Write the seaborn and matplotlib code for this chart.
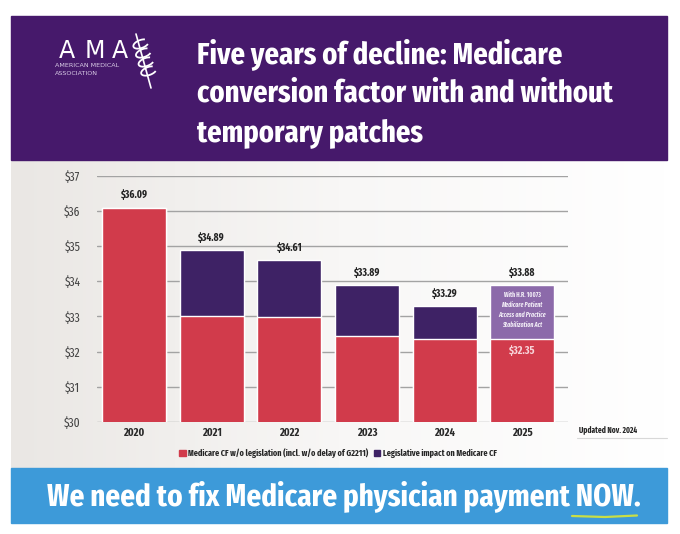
import os
import matplotlib
matplotlib.use("Agg")
import matplotlib.pyplot as plt
import seaborn as sns
import numpy as np
import pandas as pd
from matplotlib import font_manager as fm
from matplotlib.patches import Rectangle, Patch, Arc

# values
years = ["2020", "2021", "2022", "2023", "2024", "2025"]
cf_with_patch = [36.09, 34.89, 34.61, 33.89, 33.29, 33.88]
cf_without_legislation = [36.09, 33.00, 32.97, 32.43, 32.35, 32.35]
y_ticks = [30, 31, 32, 33, 34, 35, 36, 37]

RED = "#D13B4B"
DARK_PURPLE = "#3E2265"
LIGHT_PURPLE = "#8C6AAA"
HEADER = "#46196B"
BLUE = "#3D9AD9"

sns.set_theme(style="white")
plt.rcParams["font.family"] = ["DejaVu Sans"]


def pick(want_bold, want_italic):
    # look for an installed condensed face, the reference uses a condensed sans
    best, best_score = None, -1
    for f in fm.fontManager.ttflist:
        b = os.path.basename(f.fname).lower()
        if "condensed" not in b and "narrow" not in b:
            continue
        if ("italic" in b or "oblique" in b) != want_italic:
            continue
        is_bold = "bold" in b and "semibold" not in b and "extrabold" not in b
        if want_bold != is_bold:
            continue
        if any(k in b for k in ["light", "thin", "black", "medium", "semibold", "extrabold"]):
            continue
        score = 1
        if "extracondensed" in b:
            score = 4
        elif "semicondensed" in b:
            score = 2
        elif "condensed" in b:
            score = 3
        if score > best_score:
            best, best_score = f.fname, score
    return best


def fp(path, fallback_weight="normal", fallback_style="normal"):
    if path:
        return fm.FontProperties(fname=path)
    return fm.FontProperties(family="DejaVu Sans", weight=fallback_weight, style=fallback_style)


BOLD = fp(pick(True, False), "bold")
BOLD_IT = fp(pick(True, True), "bold", "italic")
REG = fp(pick(False, False))

df = pd.DataFrame({"year": years, "total": cf_with_patch, "base": cf_without_legislation})

W, H = 680, 534
fig = plt.figure(figsize=(W / 100, H / 100), dpi=100)
fig.patch.set_facecolor("white")
renderer = fig.canvas.get_renderer()


def fit(t, width_px, max_size=None):
    w = t.get_window_extent(renderer).width
    s = t.get_fontsize() * width_px / w
    if max_size:
        s = min(s, max_size)
    t.set_fontsize(s)
    return s


def size_for(s, props, width_px, max_size=None):
    t = fig.text(0, 0, s, fontproperties=props, fontsize=10)
    size = fit(t, width_px, max_size)
    t.remove()
    return size


# background layer in pixel coords
bg = fig.add_axes([0, 0, 1, 1])
bg.set_xlim(0, W)
bg.set_ylim(H, 0)
bg.axis("off")
grad = np.linspace(0, 1, 200).reshape(1, -1)
bg.imshow(grad, cmap=matplotlib.colors.LinearSegmentedColormap.from_list("g", ["#EAE7E4", "#F8F7F6", "#FFFFFF"]),
          extent=(11, 667, 468, 160), aspect="auto", zorder=0)
bg.add_patch(Rectangle((11, 16), 656, 144, color=HEADER, zorder=1))
bg.add_patch(Rectangle((11, 468), 656, 55, color=BLUE, zorder=1))

# title
title_lines = ["Five years of decline: Medicare",
               "conversion factor with and without",
               "temporary patches"]
title_size = size_for(title_lines[1], BOLD, 419, 23)
for i, line in enumerate(title_lines):
    bg.text(197, 63 + i * 39, line, color="white", fontproperties=BOLD, fontsize=title_size,
            ha="left", va="baseline", zorder=3)

# AMA logo
for cx, ch in zip([67, 95, 120], "AMA"):
    bg.text(cx, 58, ch, color="white", fontsize=17, family=["DejaVu Sans"],
            ha="center", va="baseline", zorder=3)
bg.text(55, 67, "AMERICAN MEDICAL", color="#D9CCE6", fontsize=4.6, family=["DejaVu Sans"],
        ha="left", va="baseline", zorder=3)
bg.text(55, 75, "ASSOCIATION", color="#D9CCE6", fontsize=4.6, family=["DejaVu Sans"],
        ha="left", va="baseline", zorder=3)
bg.plot([136, 151], [34, 88], color="white", lw=1.2, zorder=3)
for k, cy in enumerate([44, 53, 62, 71]):
    bg.add_patch(Arc((141 + k * 2.6, cy), 16, 8, angle=-20, theta1=20, theta2=330,
                     color="white", lw=1.3, zorder=3))

# chart axes
x0, x1 = 97, 568
y_top, y_bot = 175.7, 422
ax = fig.add_axes([x0 / W, 1 - y_bot / H, (x1 - x0) / W, (y_bot - y_top) / H])
ax.set_facecolor("none")

total_colors = [RED, DARK_PURPLE, DARK_PURPLE, DARK_PURPLE, DARK_PURPLE, LIGHT_PURPLE]
sns.barplot(data=df, x="year", y="total", hue="year", palette=total_colors, legend=False,
            width=0.825, saturation=1, ax=ax, zorder=2)
sns.barplot(data=df, x="year", y="base", color=RED, width=0.825, saturation=1, ax=ax, zorder=3)

ax.set_ylim(30, 37)
ax.set_xlim(-0.477, 5.59)
ax.set_yticks(y_ticks)
ax.set_xticks(range(len(years)))
ax.yaxis.grid(True, color="#A3A3A3", lw=1)
ax.xaxis.grid(False)
ax.set_axisbelow(True)
for s in ax.spines.values():
    s.set_visible(False)
ax.set_xlabel("")
ax.set_ylabel("")

ysize = size_for("$37", REG, 17, 9)
xsize = size_for("2020", BOLD, 21, 9)
ax.set_yticklabels([f"${t}" for t in y_ticks], fontproperties=REG, fontsize=ysize, color="#444444")
ax.set_xticklabels(years, fontproperties=BOLD, fontsize=xsize, color="#2A2A2A")
ax.tick_params(axis="y", length=0, pad=12)
ax.tick_params(axis="x", length=0, pad=4)

vsize = size_for("$36.09", BOLD, 27, 10)
for i, v in enumerate(cf_with_patch):
    ax.text(i, v + 0.2, f"${v:.2f}", ha="center", va="bottom", fontproperties=BOLD,
            fontsize=vsize, color="#222222", zorder=5)
ax.text(5, cf_without_legislation[5] - 0.18, f"${cf_without_legislation[5]:.2f}", ha="center", va="top",
        fontproperties=BOLD, fontsize=vsize * 1.05, color="#F7D3D8", zorder=5)

note = ["With H.R. 10073", "Medicare Patient", "Access and Practice", "Stabilization Act"]
nsize = size_for(note[2], BOLD_IT, 48, 8)
for k, line in enumerate(note):
    ax.text(5, 33.62 - k * 0.29, line, ha="center", va="center",
            fontproperties=BOLD if k == 0 else BOLD_IT, fontsize=nsize, color="#F1ECF6", zorder=5)

# legend and notes
labels = ["Medicare CF w/o legislation (incl. w/o delay of G2211)", "Legislative impact on Medicare CF"]
lsize = size_for(labels[0] + "  " + labels[1], BOLD, 300, 8)
lprop = BOLD.copy()
lprop.set_size(lsize)
handles = [Patch(color=RED, label=labels[0]), Patch(color=DARK_PURPLE, label=labels[1])]
fig.legend(handles=handles, loc="center", bbox_to_anchor=(338 / W, 1 - 453 / H), ncol=2,
           frameon=False, handlelength=0.7, handleheight=0.7, handletextpad=0.3,
           columnspacing=0.6, prop=lprop)

upd = bg.text(579, 431, "Updated Nov. 2024", fontproperties=BOLD, fontsize=7, color="#222222",
              ha="left", va="center", zorder=3)
fit(upd, 58, 7.5)
bg.plot([577, 667], [438, 438], color="#D8D8D8", lw=0.8, zorder=3)

# bottom banner
banner = bg.text(344, 496, "We need to fix Medicare physician payment NOW.", color="white",
                 fontproperties=BOLD, fontsize=25, ha="center", va="center", zorder=3)
fit(banner, 593, 32)
bg.plot([572, 605, 637], [516, 517, 515.5], color="#C9DE45", lw=1.6, zorder=3)

fig.savefig("out.png", dpi=100)
